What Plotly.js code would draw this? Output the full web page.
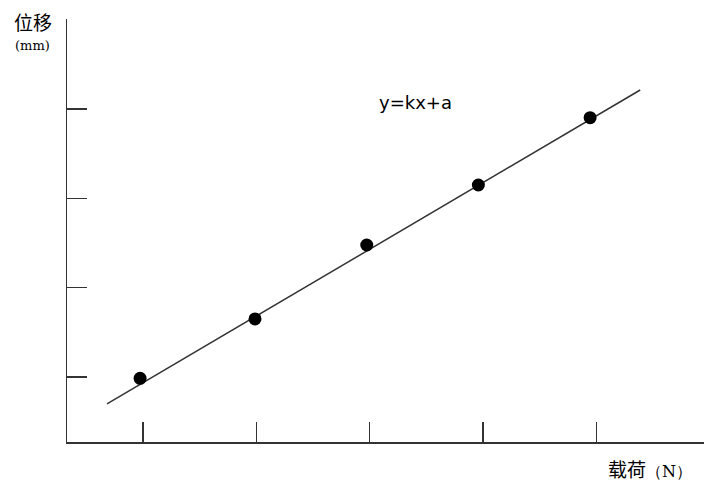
<!DOCTYPE html>
<html>
<head>
<meta charset="utf-8">
<script src="https://cdn.plot.ly/plotly-3.0.1.min.js"></script>
<style>html,body{margin:0;padding:0;background:#fff;overflow:hidden;}#chart{width:704px;height:484px;}</style>
</head>
<body>
<div id="chart"></div>
<script>
// Tick positions (no labels shown in the reference)
const xTickVals = [1, 2, 3, 4, 5];
const yTickVals = [1, 2, 3, 4];

// Measured points (load vs displacement), in tick units
const loadValues = [0.974, 1.988, 2.974, 3.959, 4.945];
const dispValues = [0.985, 1.65, 2.478, 3.15, 3.904];

// Fitted line endpoints
const fitX = [0.682, 5.387];
const fitY = [0.698, 4.214];

const yLabel = "位移";
const yUnit = "(mm)";
const xLabel = "载荷";
const xUnit = "（N）";
const equation = "y=kx+a";

const traces = [
  {
    x: fitX, y: fitY, mode: "lines", type: "scatter",
    line: {color: "#333333", width: 1.5}, hoverinfo: "skip", showlegend: false
  },
  {
    x: loadValues, y: dispValues, mode: "markers", type: "scatter",
    marker: {color: "#000000", size: 13}, showlegend: false
  }
];

const layout = {
  width: 704, height: 484,
  margin: {l: 67, r: 0, t: 19, b: 42, pad: 0},
  paper_bgcolor: "#ffffff", plot_bgcolor: "#ffffff",
  showlegend: false,
  xaxis: {
    range: [0.329, 5.95], showgrid: false, zeroline: false,
    showline: true, linecolor: "#333333", linewidth: 1.5,
    tickmode: "array", tickvals: xTickVals, showticklabels: false,
    ticks: "inside", ticklen: 20, tickwidth: 1.5, tickcolor: "#333333"
  },
  yaxis: {
    range: [0.272, 5.009], showgrid: false, zeroline: false,
    showline: true, linecolor: "#333333", linewidth: 1.5,
    tickmode: "array", tickvals: yTickVals, showticklabels: false,
    ticks: "inside", ticklen: 20, tickwidth: 1.5, tickcolor: "#333333"
  },
  annotations: [
    {xref: "paper", yref: "paper", x: -0.0534, y: 0.995, text: yLabel, showarrow: false,
     xanchor: "center", yanchor: "middle",
     font: {family: "Noto Sans CJK SC", size: 19, color: "#000"}},
    {xref: "paper", yref: "paper", x: -0.0534, y: 0.9385, text: yUnit, showarrow: false,
     xanchor: "center", yanchor: "middle",
     font: {family: "DejaVu Serif", size: 13, color: "#000"}},
    {xref: "paper", yref: "paper", x: 0.915, y: -0.0615,
     text: xLabel + '<span style="font-size:16px;font-family:DejaVu Serif">' + xUnit + '</span>',
     showarrow: false, xanchor: "center", yanchor: "middle",
     font: {family: "Noto Sans CJK SC", size: 19, color: "#000"}},
    {xref: "x", yref: "y", x: 3.4, y: 4.07, text: equation, showarrow: false,
     xanchor: "center", yanchor: "middle",
     font: {family: "DejaVu Sans", size: 18, color: "#000"}}
  ]
};

Plotly.newPlot("chart", traces, layout, {displayModeBar: false, staticPlot: true});
</script>
</body>
</html>
